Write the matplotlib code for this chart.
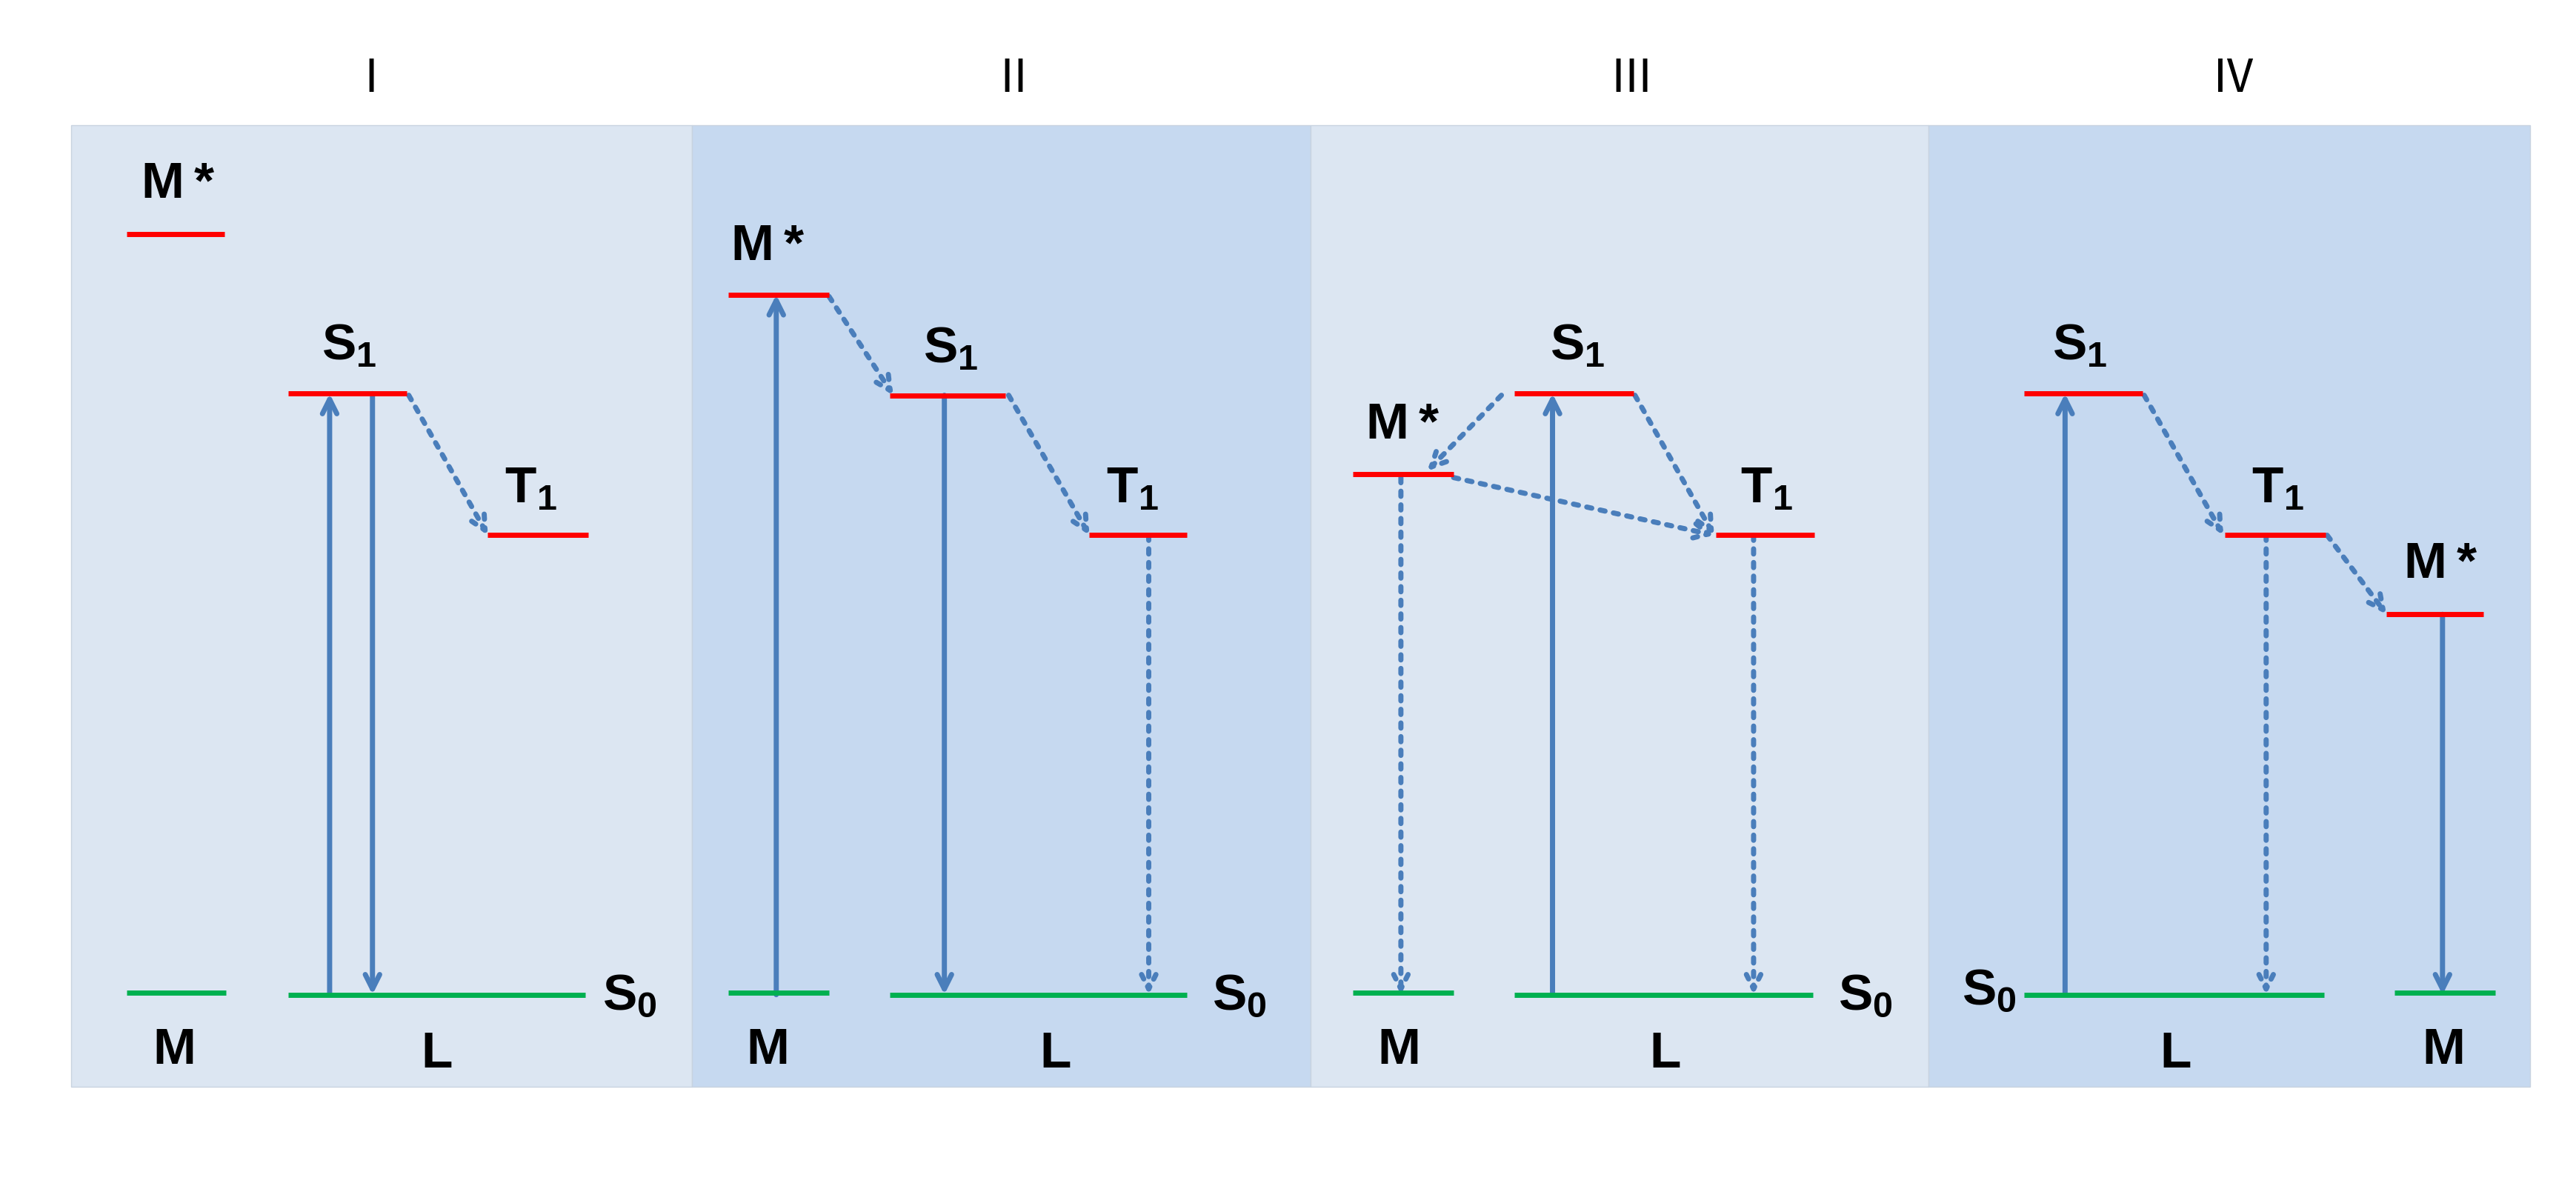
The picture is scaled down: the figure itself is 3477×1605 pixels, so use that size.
"""
Energy level diagrams for four sensitisation cases (I - IV).
"""

import matplotlib
matplotlib.use("Agg")
import matplotlib.pyplot as plt
from matplotlib.patches import Rectangle, FancyArrowPatch

plt.rcParams["font.family"] = ["Liberation Sans", "DejaVu Sans"]
plt.rcParams["mathtext.fontset"] = "custom"
plt.rcParams["mathtext.bf"] = "Liberation Sans:bold"
plt.rcParams["mathtext.rm"] = "Liberation Sans"

# coordinates below are in reference-image units (1563 x 722, y down)
panel_titles = ["Ⅰ", "Ⅱ", "Ⅲ", "Ⅳ"]
panel_edges = [43, 420, 795, 1170, 1535]
panel_colors = ["#dce6f2", "#c6d9f0", "#dce6f2", "#c6d9f0"]

# (x0, x1, y, kind) ; kind "ex" red, "gr" green
levels = [
    (77, 136, 142, "ex"), (175, 247, 239, "ex"), (296, 357, 325, "ex"),
    (77, 137, 603, "gr"), (175, 355, 604, "gr"),
    (442, 503, 179, "ex"), (540, 610, 240, "ex"), (661, 720, 325, "ex"),
    (442, 503, 603, "gr"), (540, 720, 604, "gr"),
    (821, 882, 288, "ex"), (919, 991, 239, "ex"), (1041, 1101, 325, "ex"),
    (821, 882, 603, "gr"), (919, 1100, 604, "gr"),
    (1228, 1300, 239, "ex"), (1350, 1411, 325, "ex"), (1448, 1507, 373, "ex"),
    (1228, 1410, 604, "gr"), (1453, 1514, 603, "gr"),
]

labels = [
    (108, 112, r"$\mathbf{M*}$"), (212, 210, r"$\mathbf{S_1}$"), (322, 297, r"$\mathbf{T_1}$"),
    (105, 638, r"$\mathbf{M}$"), (265, 640, r"$\mathbf{L}$"), (382, 605, r"$\mathbf{S_0}$"),
    (466, 150, r"$\mathbf{M*}$"), (577, 212, r"$\mathbf{S_1}$"), (687, 297, r"$\mathbf{T_1}$"),
    (465, 638, r"$\mathbf{M}$"), (640, 640, r"$\mathbf{L}$"), (752, 605, r"$\mathbf{S_0}$"),
    (851, 258, r"$\mathbf{M*}$"), (957, 210, r"$\mathbf{S_1}$"), (1072, 297, r"$\mathbf{T_1}$"),
    (848, 638, r"$\mathbf{M}$"), (1010, 640, r"$\mathbf{L}$"), (1132, 605, r"$\mathbf{S_0}$"),
    (1262, 210, r"$\mathbf{S_1}$"), (1382, 297, r"$\mathbf{T_1}$"), (1481, 343, r"$\mathbf{M*}$"),
    (1207, 602, r"$\mathbf{S_0}$"), (1320, 640, r"$\mathbf{L}$"), (1482, 638, r"$\mathbf{M}$"),
]

# (x0, y0, x1, y1, dotted)
arrows = [
    (200, 604, 200, 239, False), (226, 239, 226, 604, False), (248, 240, 296, 325, True),
    (471, 604, 471, 179, False), (503, 180, 542, 240, True), (573, 240, 573, 604, False),
    (612, 240, 661, 325, True), (697, 325, 697, 604, True),
    (911, 240, 866, 286, True), (942, 604, 942, 239, False), (992, 240, 1040, 325, True),
    (882, 290, 1040, 325, True), (850, 290, 850, 604, True), (1064, 325, 1064, 604, True),
    (1253, 604, 1253, 239, False), (1301, 240, 1349, 325, True), (1375, 325, 1375, 604, True),
    (1412, 325, 1448, 373, True), (1482, 373, 1482, 604, False),
]

fig = plt.figure(figsize=(34.77, 16.05), dpi=100)
ax = fig.add_axes([0, 0, 1, 1])
ax.set_xlim(0, 1563)
ax.set_ylim(722, 0)
ax.axis("off")

for i, title in enumerate(panel_titles):
    x0, x1 = panel_edges[i], panel_edges[i + 1]
    ax.add_patch(Rectangle((x0, 76), x1 - x0, 584, facecolor=panel_colors[i],
                           edgecolor="#c8d3e0", lw=1))
    ax.text([225, 615, 990, 1355][i], 48, title, fontsize=44, ha="center", va="center",
            family=["Noto Sans CJK SC", "DejaVu Sans"])

for x0, x1, y, kind in levels:
    ax.plot([x0, x1], [y, y], color="#ff0000" if kind == "ex" else "#00b050",
            lw=5, solid_capstyle="butt")

for x, y, s in labels:
    ax.text(x, y, s, fontsize=50, ha="center", va="center")

for x0, y0, x1, y1, dotted in arrows:
    ax.add_patch(FancyArrowPatch((x0, y0), (x1, y1), arrowstyle="->,head_length=14,head_width=7",
                                 color="#4a7ebb", lw=5, linestyle=":" if dotted else "-",
                                 shrinkA=0, shrinkB=0))

fig.savefig("out.png", dpi=100)
